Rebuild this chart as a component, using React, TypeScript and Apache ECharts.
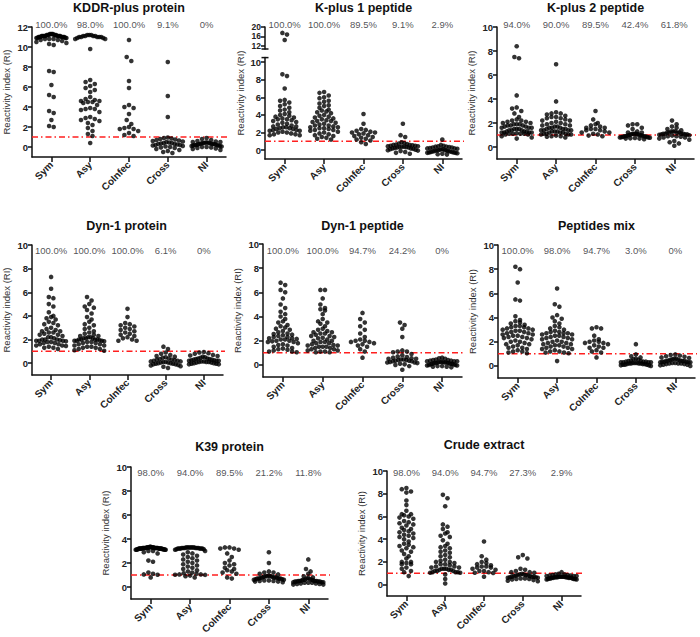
import { useEffect, useRef } from "react";
import * as echarts from "echarts";

const categories = ["Sym", "Asy", "CoInfec", "Cross", "NI"];
const yName = "Reactivity index (RI)";
const cutoff = 1;

const titles = [
  "KDDR-plus protein",
  "K-plus 1 peptide",
  "K-plus 2 peptide",
  "Dyn-1 protein",
  "Dyn-1 peptide",
  "Peptides mix",
  "K39 protein",
  "Crude extract",
];

const kddrPct = ["100.0%", "98.0%", "100.0%", "9.1%", "0%"];
const kp1Pct = ["100.0%", "100.0%", "89.5%", "9.1%", "2.9%"];
const kp2Pct = ["94.0%", "90.0%", "89.5%", "42.4%", "61.8%"];
const dynProtPct = ["100.0%", "100.0%", "100.0%", "6.1%", "0%"];
const dynPepPct = ["100.0%", "100.0%", "94.7%", "24.2%", "0%"];
const mixPct = ["100.0%", "98.0%", "94.7%", "3.0%", "0%"];
const k39Pct = ["98.0%", "94.0%", "89.5%", "21.2%", "11.8%"];
const crudePct = ["98.0%", "94.0%", "94.7%", "27.3%", "2.9%"];

const ticks12 = [0, 2, 4, 6, 8, 10, 12];
const ticks10 = [0, 2, 4, 6, 8, 10];
const ticksBreak = [12, 16, 20];

// KDDR-plus protein
const kddrSym = [11.3,11.3,11.3,11.3,11.2,11.2,11.2,11.2,11.2,11.2,11.1,11.1,11.1,11.1,11.1,11.1,11.1,11.1,11.0,11.0,11.0,11.0,11.0,11.0,10.9,10.9,10.9,10.9,10.8,10.8,10.8,10.7,10.7,10.6,10.5,10.4,10.3,10.2,11.0,11.1,7.6,7.5,6.2,5.2,5.0,3.6,3.4,2.7,2.1,2.0];
const kddrAsy = [11.2,11.2,11.1,11.1,11.1,11.1,11.0,11.0,11.0,11.0,11.0,10.9,10.9,10.8,10.8,11.2,9.8,6.7,6.5,6.3,6.1,5.9,5.7,5.5,5.0,4.8,4.7,4.6,4.6,4.5,4.5,4.4,4.2,3.9,3.8,3.8,3.7,3.5,3.0,2.9,2.8,2.7,2.6,2.4,2.2,1.9,1.6,1.3,1.1,0.4];
const kddrCoInfec = [10.7,9.0,8.6,6.6,5.9,4.2,4.0,3.9,3.3,2.7,2.3,2.0,1.9,1.8,1.8,1.6,1.4,1.2,1.1];
const kddrCross = [8.5,5.1,3.0,0.95,0.9,0.85,0.8,0.75,0.7,0.65,0.6,0.55,0.5,0.45,0.4,0.4,0.35,0.3,0.3,0.25,0.2,0.2,0.15,0.1,0.05,0.0,-0.05,-0.1,-0.2,-0.3,-0.4,-0.5,-0.6];
const kddrNI = [0.9,0.8,0.7,0.6,0.55,0.5,0.5,0.45,0.45,0.4,0.4,0.4,0.35,0.35,0.3,0.3,0.3,0.25,0.25,0.2,0.2,0.2,0.15,0.15,0.1,0.1,0.05,0.0,0.0,-0.05,-0.1,-0.15,-0.2,-0.3];

// K-plus 1 peptide
const kp1Sym = [17.5,16.8,14.5,8.6,8.4,7.0,5.7,5.6,5.4,5.2,5.0,4.8,4.6,4.5,4.3,4.1,3.9,3.8,3.7,3.6,3.5,3.5,3.4,3.3,3.2,3.1,2.9,2.8,2.7,2.7,2.6,2.6,2.5,2.5,2.4,2.4,2.3,2.3,2.2,2.2,2.1,2.0,2.0,1.9,1.8,1.8,1.7,1.7,3.0,4.0];
const kp1Asy = [6.6,6.5,6.2,6.0,5.9,5.6,5.5,5.3,5.1,5.0,4.8,4.6,4.5,4.4,4.3,4.2,4.0,3.9,3.8,3.7,3.6,3.5,3.4,3.3,3.3,3.2,3.1,3.0,2.9,2.8,2.8,2.7,2.6,2.6,2.5,2.5,2.4,2.3,2.3,2.2,2.1,2.0,1.9,1.8,1.7,1.6,1.5,1.4,1.3,1.2];
const kp1CoInfec = [4.1,3.0,2.4,2.3,2.2,2.1,2.0,2.0,1.9,1.8,1.7,1.6,1.5,1.4,1.3,1.2,1.1,0.9,0.7];
const kp1Cross = [3.0,1.7,1.5,0.9,0.8,0.75,0.7,0.65,0.6,0.6,0.55,0.5,0.5,0.45,0.45,0.4,0.4,0.35,0.35,0.3,0.3,0.25,0.2,0.2,0.15,0.1,0.05,0.0,-0.05,-0.1,-0.2,-0.3,-0.4];
const kp1NI = [1.2,0.5,0.45,0.4,0.4,0.35,0.3,0.3,0.25,0.2,0.2,0.15,0.1,0.1,0.05,0.0,0.0,-0.05,-0.05,-0.1,-0.1,-0.15,-0.15,-0.2,-0.2,-0.25,-0.25,-0.3,-0.3,-0.35,-0.4,-0.45,-0.5,0.6];

// K-plus 2 peptide
const kp2Sym = [8.4,7.5,7.4,4.3,3.3,3.2,3.0,2.8,2.3,2.2,2.1,2.1,2.0,2.0,1.9,1.9,1.8,1.8,1.8,1.7,1.7,1.6,1.6,1.5,1.5,1.5,1.4,1.4,1.4,1.3,1.3,1.3,1.2,1.2,1.2,1.2,1.1,1.1,1.1,1.1,1.05,1.05,1.6,2.5,1.9,2.2,1.15,0.9,0.8,0.7];
const kp2Asy = [6.9,3.8,2.9,2.8,2.8,2.7,2.6,2.5,2.5,2.4,2.4,2.3,2.2,2.1,2.0,2.0,1.9,1.8,1.8,1.7,1.7,1.6,1.6,1.5,1.5,1.5,1.4,1.4,1.4,1.3,1.3,1.3,1.2,1.2,1.2,1.1,1.1,1.1,1.05,1.05,1.05,1.6,1.9,2.2,1.4,0.95,0.9,0.9,0.85,0.8];
const kp2CoInfec = [3.0,2.3,2.0,1.9,1.8,1.7,1.6,1.6,1.5,1.5,1.4,1.4,1.3,1.2,1.2,1.1,1.05,0.95,0.9];
const kp2Cross = [1.9,1.9,1.8,1.6,1.5,1.3,1.2,1.2,1.1,1.1,1.1,1.05,1.05,1.05,1.0,0.98,0.95,0.95,0.92,0.9,0.9,0.88,0.85,0.85,0.82,0.8,0.8,0.78,0.75,0.72,0.7,0.7,0.65];
const kp2NI = [2.2,1.9,1.7,1.6,1.5,1.4,1.3,1.3,1.3,1.2,1.2,1.2,1.2,1.1,1.1,1.1,1.1,1.05,1.05,1.05,1.02,0.98,0.95,0.9,0.9,0.85,0.8,0.8,0.7,0.6,0.5,0.4,0.3,0.1];

// Dyn-1 protein
const dynProtSym = [7.3,6.3,5.6,5.5,5.0,4.8,4.3,4.0,3.9,3.8,3.7,3.5,3.4,3.3,3.2,3.0,2.9,2.8,2.7,2.7,2.6,2.6,2.5,2.4,2.4,2.3,2.2,2.2,2.1,2.0,2.0,2.0,1.95,1.9,1.9,1.9,1.85,1.8,1.8,1.7,1.7,1.6,1.6,1.5,1.5,1.45,1.4,1.3,1.3,1.2];
const dynProtAsy = [5.6,5.3,5.0,4.8,4.7,4.5,4.2,3.9,3.7,3.5,3.3,3.2,3.0,2.9,2.7,2.6,2.5,2.4,2.3,2.2,2.2,2.1,2.1,2.1,2.0,2.0,2.0,2.0,1.95,1.9,1.9,1.9,1.85,1.8,1.8,1.7,1.7,1.6,1.6,1.5,1.5,1.4,1.4,1.3,1.3,1.2,1.2,1.1,1.05,2.3];
const dynProtCoInfec = [4.6,3.9,3.4,3.3,3.2,3.1,3.0,2.9,2.8,2.7,2.6,2.5,2.4,2.3,2.2,2.1,2.0,1.9,1.9];
const dynProtCross = [1.4,1.2,0.9,0.8,0.7,0.6,0.55,0.5,0.45,0.4,0.35,0.3,0.3,0.25,0.2,0.2,0.15,0.15,0.1,0.1,0.05,0.05,0.0,0.0,-0.05,-0.05,-0.1,-0.1,-0.15,-0.2,-0.25,-0.3,-0.4];
const dynProtNI = [0.95,0.9,0.85,0.8,0.7,0.65,0.6,0.55,0.5,0.45,0.4,0.4,0.35,0.35,0.3,0.3,0.25,0.25,0.2,0.2,0.2,0.15,0.15,0.1,0.1,0.1,0.05,0.05,0.0,0.0,-0.05,-0.05,-0.1,-0.1];

// Dyn-1 peptide
const dynPepSym = [6.8,6.6,6.2,6.0,5.5,5.0,4.7,4.4,4.2,4.0,3.8,3.6,3.5,3.3,3.2,3.1,3.0,2.9,2.8,2.7,2.6,2.55,2.5,2.45,2.4,2.3,2.3,2.2,2.2,2.15,2.1,2.1,2.0,2.0,1.95,1.9,1.9,1.8,1.7,1.65,1.6,1.5,1.4,1.35,1.3,1.25,1.2,1.1,1.1,1.05];
const dynPepAsy = [6.2,6.2,5.5,5.0,4.7,4.6,4.5,4.2,3.8,3.6,3.4,3.2,3.0,2.8,2.7,2.7,2.6,2.6,2.5,2.4,2.4,2.3,2.2,2.1,2.0,2.0,1.9,1.9,1.8,1.8,1.7,1.6,1.6,1.5,1.5,1.5,1.4,1.4,1.3,1.3,1.2,1.2,1.1,1.1,1.05,1.05,2.9,3.5,2.25,1.65];
const dynPepCoInfec = [4.3,3.8,3.5,3.2,2.9,2.6,2.3,2.1,2.0,2.0,1.9,1.9,1.8,1.7,1.6,1.5,1.3,1.1,0.6];
const dynPepCross = [3.5,3.3,3.0,2.3,1.2,1.1,1.1,1.05,0.9,0.8,0.7,0.65,0.6,0.55,0.5,0.5,0.45,0.45,0.4,0.4,0.35,0.35,0.3,0.3,0.25,0.2,0.2,0.15,0.1,0.05,0.0,-0.1,-0.4];
const dynPepNI = [0.6,0.55,0.5,0.45,0.4,0.4,0.35,0.35,0.3,0.3,0.3,0.25,0.25,0.25,0.2,0.2,0.2,0.15,0.15,0.15,0.1,0.1,0.1,0.05,0.05,0.0,0.0,-0.05,-0.05,-0.1,-0.1,-0.15,-0.15,-0.2];

// Peptides mix
const mixSym = [8.2,8.0,6.9,5.5,5.4,4.1,3.8,3.6,3.5,3.4,3.3,3.3,3.2,3.2,3.1,3.1,3.0,3.0,2.9,2.9,2.8,2.8,2.7,2.7,2.6,2.6,2.5,2.5,2.4,2.4,2.3,2.3,2.2,2.1,2.0,2.0,1.9,1.8,1.8,1.7,1.6,1.5,1.5,1.4,1.3,1.2,1.2,1.1,1.05,3.7];
const mixAsy = [6.4,5.1,4.9,4.2,4.0,3.7,3.5,3.3,3.2,3.1,3.0,2.9,2.8,2.8,2.7,2.7,2.7,2.6,2.6,2.5,2.5,2.4,2.4,2.3,2.2,2.2,2.1,2.0,2.0,1.9,1.9,1.8,1.8,1.7,1.6,1.6,1.5,1.5,1.4,1.4,1.3,1.2,1.2,1.1,1.1,1.05,3.9,2.3,1.7,0.4];
const mixCoInfec = [3.2,3.1,3.1,2.5,2.2,2.1,2.0,2.0,1.9,1.9,1.8,1.7,1.6,1.5,1.5,1.3,1.2,1.1,0.7];
const mixCross = [1.8,0.95,0.8,0.7,0.6,0.55,0.5,0.45,0.4,0.4,0.35,0.35,0.3,0.3,0.3,0.25,0.25,0.25,0.2,0.2,0.2,0.2,0.15,0.15,0.15,0.1,0.1,0.1,0.05,0.05,0.0,0.3,0.35];
const mixNI = [0.95,0.9,0.85,0.8,0.75,0.7,0.65,0.6,0.6,0.55,0.5,0.5,0.45,0.45,0.4,0.4,0.4,0.35,0.35,0.35,0.3,0.3,0.3,0.25,0.25,0.2,0.2,0.2,0.15,0.15,0.1,0.1,0.05,0.0];

// K39 protein
const k39Sym = [3.35,3.35,3.3,3.3,3.3,3.3,3.3,3.3,3.3,3.3,3.25,3.25,3.25,3.25,3.25,3.25,3.25,3.25,3.25,3.25,3.2,3.2,3.2,3.2,3.2,3.2,3.2,3.2,3.2,3.2,3.15,3.15,3.15,3.15,3.15,3.1,3.1,3.1,3.0,3.0,2.9,2.8,2.2,2.1,1.2,1.1,1.05,1.02,3.1,0.8];
const k39Asy = [3.3,3.3,3.3,3.3,3.3,3.3,3.3,3.25,3.25,3.25,3.25,3.25,3.25,3.2,3.2,3.2,3.2,3.2,3.2,3.15,3.15,3.1,3.0,2.9,2.8,2.7,2.6,2.5,2.4,2.3,2.2,2.1,2.0,1.9,1.8,1.7,1.6,1.5,1.4,1.3,1.2,1.15,1.1,1.05,1.05,1.02,1.01,0.95,0.9,0.8];
const k39CoInfec = [3.3,3.3,3.2,3.2,3.1,2.8,2.5,2.2,2.0,1.9,1.8,1.6,1.5,1.4,1.3,1.2,1.1,0.8,0.7];
const k39Cross = [2.9,2.0,1.3,1.2,1.2,1.1,1.05,0.95,0.9,0.9,0.85,0.85,0.8,0.8,0.8,0.75,0.75,0.7,0.7,0.7,0.65,0.65,0.6,0.6,0.55,0.55,0.5,0.5,0.45,0.45,0.4,0.9,0.7];
const k39NI = [2.3,1.5,1.3,1.1,0.9,0.8,0.75,0.7,0.65,0.6,0.6,0.55,0.55,0.5,0.5,0.5,0.45,0.45,0.45,0.4,0.4,0.4,0.35,0.35,0.35,0.3,0.3,0.25,0.25,0.2,0.2,0.5,0.6,0.45];

// Crude extract
const crudeSym = [8.5,8.4,8.2,8.1,7.4,7.0,6.5,6.2,6.2,6.1,6.0,5.9,5.8,5.6,5.5,5.4,5.3,5.2,5.0,4.9,4.8,4.7,4.6,4.5,4.4,4.3,4.2,4.1,4.0,3.8,3.6,3.5,3.4,3.3,3.2,3.0,2.9,2.7,2.5,2.3,2.0,2.0,1.9,1.8,1.8,1.5,1.4,1.2,1.1,0.75];
const crudeAsy = [7.9,7.6,6.9,5.3,5.1,4.9,4.6,4.5,4.2,3.9,3.6,3.4,3.2,3.0,2.8,2.6,2.5,2.4,2.2,2.1,2.0,2.0,1.9,1.8,1.8,1.7,1.6,1.6,1.5,1.5,1.4,1.4,1.4,1.3,1.3,1.3,1.2,1.2,1.2,1.1,1.1,1.1,1.05,1.05,2.9,3.3,4.3,0.9,0.5,0.1];
const crudeCoInfec = [3.8,2.5,2.2,2.0,1.9,1.8,1.7,1.6,1.6,1.5,1.5,1.4,1.3,1.2,1.2,1.1,1.05,1.02,0.7];
const crudeCross = [2.6,2.4,2.3,1.4,1.3,1.2,1.1,1.1,1.05,0.95,0.9,0.9,0.85,0.85,0.8,0.8,0.75,0.75,0.7,0.7,0.7,0.65,0.65,0.6,0.6,0.55,0.55,0.5,0.5,0.45,0.4,0.35,0.3];
const crudeNI = [1.1,0.95,0.9,0.9,0.85,0.85,0.8,0.8,0.75,0.75,0.75,0.7,0.7,0.7,0.7,0.65,0.65,0.65,0.65,0.6,0.6,0.6,0.6,0.55,0.55,0.55,0.5,0.5,0.5,0.45,0.45,0.6,0.7,0.65];

const FONT = "'Liberation Sans', Arial, sans-serif";
const INK = "#111";

type Box = { left: number; top: number; width: number; height: number };
type Panel = {
  title: string;
  groups: number[][];
  pct: string[];
  box: Box;
  yMin: number;
  yMax: number;
  ticks: number[];
  pctDy: number;
  titleY: number;
  brk?: { top: number; height: number; min: number; max: number; ticks: number[] };
};

const panels: Panel[] = [
  { title: titles[0], groups: [kddrSym, kddrAsy, kddrCoInfec, kddrCross, kddrNI], pct: kddrPct,
    box: { left: 32, top: 27, width: 194, height: 130 }, yMin: -1, yMax: 12, ticks: ticks12, pctDy: -3, titleY: 8 },
  { title: titles[1], groups: [kp1Sym, kp1Asy, kp1CoInfec, kp1Cross, kp1NI], pct: kp1Pct,
    box: { left: 265, top: 57.6, width: 197, height: 101.4 }, yMin: -1, yMax: 10.5, ticks: ticks10, pctDy: -3, titleY: 8,
    brk: { top: 27, height: 22, min: 10.7, max: 20, ticks: ticksBreak } },
  { title: titles[2], groups: [kp2Sym, kp2Asy, kp2CoInfec, kp2Cross, kp2NI], pct: kp2Pct,
    box: { left: 497, top: 27, width: 197, height: 132 }, yMin: -1, yMax: 10, ticks: ticks10, pctDy: -3, titleY: 8 },
  { title: titles[3], groups: [dynProtSym, dynProtAsy, dynProtCoInfec, dynProtCross, dynProtNI], pct: dynProtPct,
    box: { left: 30, top: 245, width: 193, height: 130 }, yMin: -1, yMax: 10, ticks: ticks10, pctDy: 5, titleY: 226 },
  { title: titles[4], groups: [dynPepSym, dynPepAsy, dynPepCoInfec, dynPepCross, dynPepNI], pct: dynPepPct,
    box: { left: 263, top: 244, width: 199, height: 133 }, yMin: -1, yMax: 10, ticks: ticks10, pctDy: 6, titleY: 226 },
  { title: titles[5], groups: [mixSym, mixAsy, mixCoInfec, mixCross, mixNI], pct: mixPct,
    box: { left: 498, top: 245, width: 197, height: 133 }, yMin: -1, yMax: 10, ticks: ticks10, pctDy: 5, titleY: 226 },
  { title: titles[6], groups: [k39Sym, k39Asy, k39CoInfec, k39Cross, k39NI], pct: k39Pct,
    box: { left: 131, top: 467, width: 197, height: 132 }, yMin: -1, yMax: 10, ticks: ticks10, pctDy: 5, titleY: 447 },
  { title: titles[7], groups: [crudeSym, crudeAsy, crudeCoInfec, crudeCross, crudeNI], pct: crudePct,
    box: { left: 387, top: 471, width: 194, height: 125 }, yMin: -1, yMax: 10, ticks: ticks10, pctDy: 1, titleY: 445 },
];

// Deterministic beeswarm layout (Prism-like rows): values binned by pixel height,
// each row spread symmetrically around the category centre.
function swarm(values: number[], cat: number, pxPerY: number, pxPerX: number) {
  const sorted = [...values].sort((a, b) => b - a);
  const out: number[][] = [];
  const binPx = 4.2;
  const dotPx = 4.6;
  const maxW = 30;
  let i = 0;
  while (i < sorted.length) {
    const start = sorted[i];
    let j = i;
    while (j < sorted.length && (start - sorted[j]) * pxPerY < binPx) j++;
    const n = j - i;
    const step = n > 1 ? Math.min(dotPx, maxW / (n - 1)) : 0;
    const slots: number[] = [];
    for (let k = 0; k < n; k++) slots.push((k - (n - 1) / 2) * step);
    slots.sort((a, b) => Math.abs(a) - Math.abs(b));
    for (let k = 0; k < n; k++) {
      out.push([cat + slots[k] / pxPerX, sorted[i + k]]);
    }
    i = j;
  }
  return out;
}

function axisLineStyle() {
  return { show: true, onZero: false, lineStyle: { color: INK, width: 1.5 } };
}

function yLabel(ticks: number[], size: number) {
  return {
    customValues: ticks, fontSize: size, fontWeight: "bold", color: "#222", margin: 4, fontFamily: FONT,
    hideOverlap: false, showMinLabel: true, showMaxLabel: true,
  };
}

function cutoffSeries(xi: number, yi: number) {
  return {
    type: "line", xAxisIndex: xi, yAxisIndex: yi, silent: true, clip: false,
    symbol: "none", data: [[-0.5, cutoff], [4.75, cutoff]],
    lineStyle: { color: "#ff1f1f", width: 1.5, type: [6, 3, 1.5, 3] },
    z: 1,
  };
}

function buildOption() {
  const grid: any[] = [];
  const xAxis: any[] = [];
  const yAxis: any[] = [];
  const series: any[] = [];
  const graphic: any[] = [];

  panels.forEach((p) => {
    const b = p.box;
    const gi = grid.length;
    grid.push({ left: b.left, top: b.top, width: b.width, height: b.height });
    xAxis.push({
      type: "category", gridIndex: gi, data: categories, boundaryGap: true,
      axisLine: axisLineStyle(),
      axisTick: { show: true, alignWithLabel: true, length: 5, lineStyle: { color: INK, width: 1.5 } },
      axisLabel: { interval: 0, rotate: 45, fontSize: 10, fontWeight: "bold", color: "#222", margin: 6, fontFamily: FONT },
      splitLine: { show: false },
    });
    xAxis.push({ type: "value", gridIndex: gi, min: -0.5, max: 4.5, show: false });
    const valX = xAxis.length - 1;
    yAxis.push({
      type: "value", gridIndex: gi, min: p.yMin, max: p.yMax,
      axisLine: axisLineStyle(),
      axisTick: { show: true, length: 4, customValues: p.ticks, lineStyle: { color: INK, width: 1.5 } },
      axisLabel: yLabel(p.ticks, 9.5),
      splitLine: { show: false },
      name: p.brk ? "" : yName, nameLocation: "middle", nameGap: 21,
      nameTextStyle: { fontSize: 9.5, color: "#333", fontFamily: FONT },
    });
    const yi = yAxis.length - 1;
    const pxPerX = b.width / 5;
    const pxPerY = b.height / (p.yMax - p.yMin);

    const lowData: number[][] = [];
    const highVals: number[][] = [];
    p.groups.forEach((g, ci) => {
      const low = p.brk ? g.filter((v) => v < p.yMax) : g;
      lowData.push(...swarm(low, ci, pxPerY, pxPerX));
      if (p.brk) highVals.push(g.filter((v) => v >= p.yMax));
    });

    series.push(cutoffSeries(valX, yi));
    series.push({
      type: "scatter", xAxisIndex: valX, yAxisIndex: yi, data: lowData,
      symbolSize: 4.6, itemStyle: { color: "#000" }, silent: true, z: 3,
    });

    let pctX = valX;
    let pctY = yi;
    let pctTop = p.yMax;

    if (p.brk) {
      const br = p.brk;
      const gj = grid.length;
      grid.push({ left: b.left, top: br.top, width: b.width, height: br.height });
      xAxis.push({ type: "value", gridIndex: gj, min: -0.5, max: 4.5, show: false });
      const valX2 = xAxis.length - 1;
      yAxis.push({
        type: "value", gridIndex: gj, min: br.min, max: br.max,
        axisLine: axisLineStyle(),
        axisTick: { show: true, length: 4, customValues: br.ticks, lineStyle: { color: INK, width: 1.5 } },
        axisLabel: yLabel(br.ticks, 8.5),
        splitLine: { show: false },
      });
      const yj = yAxis.length - 1;
      const pxPerY2 = br.height / (br.max - br.min);
      const highData: number[][] = [];
      highVals.forEach((g, ci) => highData.push(...swarm(g, ci, pxPerY2, pxPerX)));
      series.push({
        type: "scatter", xAxisIndex: valX2, yAxisIndex: yj, data: highData,
        symbolSize: 4.6, itemStyle: { color: "#000" }, silent: true, z: 3,
      });
      pctX = valX2;
      pctY = yj;
      pctTop = br.max;
      // axis break caps
      graphic.push(
        { type: "line", shape: { x1: b.left - 3.5, y1: br.top + br.height, x2: b.left + 3.5, y2: br.top + br.height }, style: { stroke: INK, lineWidth: 1.5 } },
        { type: "line", shape: { x1: b.left - 3.5, y1: b.top, x2: b.left + 3.5, y2: b.top }, style: { stroke: INK, lineWidth: 1.5 } },
      );
      graphic.push({
        type: "text", x: b.left - 25, y: (br.top + b.top + b.height) / 2, rotation: Math.PI / 2,
        style: { text: yName, fill: "#333", fontSize: 9.5, fontFamily: FONT, align: "center", verticalAlign: "middle", textAlign: "center", textVerticalAlign: "middle" },
      });
    }

    series.push({
      type: "scatter", xAxisIndex: pctX, yAxisIndex: pctY, clip: false, silent: true,
      symbolSize: 1, itemStyle: { color: "rgba(0,0,0,0)" },
      data: p.pct.map((t, i) => ({ value: [i, pctTop], name: t })),
      label: {
        show: true, position: "inside", offset: [0, p.pctDy], formatter: "{b}",
        fontSize: 9.5, color: "#1e1e2a", fontFamily: FONT,
      },
    });

    graphic.push({
      type: "text", x: b.left + b.width / 2, y: p.titleY,
      style: { text: p.title, fill: "#111", fontSize: 12.5, fontWeight: "bold", fontFamily: FONT, align: "center", verticalAlign: "middle", textAlign: "center", textVerticalAlign: "middle" },
    });
  });

  return {
    animation: false,
    backgroundColor: "#fff",
    textStyle: { fontFamily: FONT },
    grid, xAxis, yAxis, series, graphic,
  };
}

export default function App() {
  const ref = useRef<HTMLDivElement>(null);
  useEffect(() => {
    document.body.style.margin = "0";
    if (!ref.current) return;
    const chart = echarts.init(ref.current, undefined, { renderer: "svg" });
    chart.setOption(buildOption() as any);
    return () => chart.dispose();
  }, []);
  return <div ref={ref} style={{ width: 700, height: 637 }} />;
}
